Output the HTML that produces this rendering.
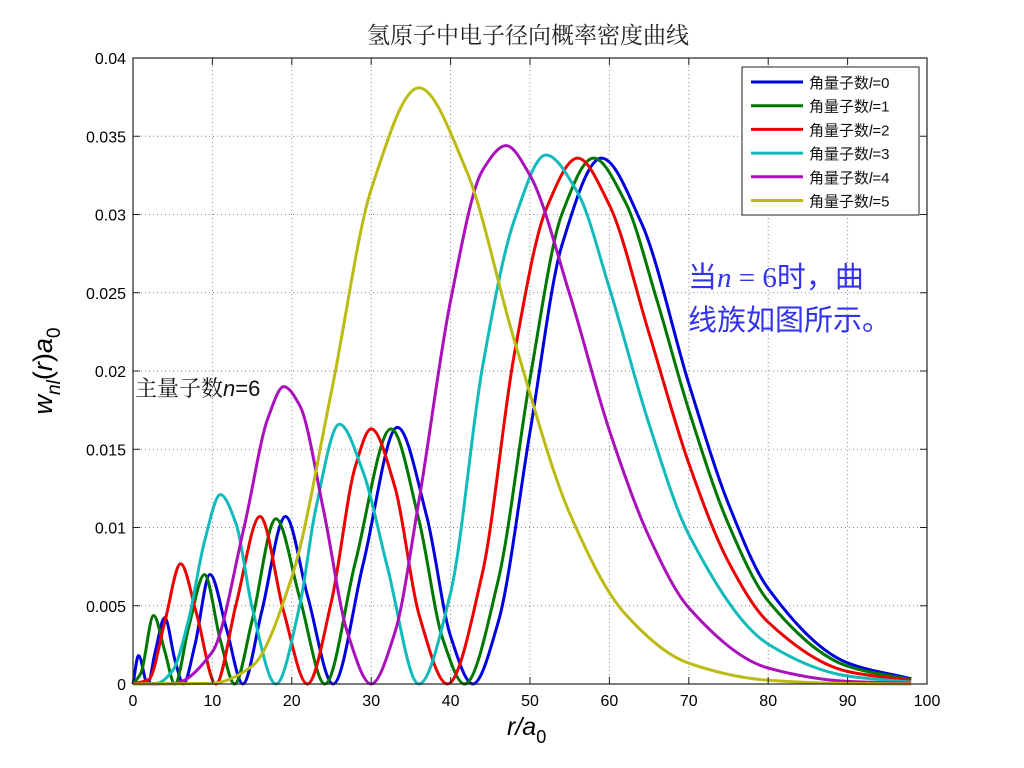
<!DOCTYPE html>
<html><head><meta charset="utf-8">
<style>
html,body{margin:0;padding:0;background:#fff;}
svg{display:block;}
</style></head>
<body>
<svg id="chart" width="1024" height="768" viewBox="0 0 1024 768" xmlns="http://www.w3.org/2000/svg">
  <rect x="0" y="0" width="1024" height="768" fill="#fff"/>
  <text x="528" y="43" text-anchor="middle" font-family="'Liberation Serif','Noto Serif CJK SC',serif" font-size="23" fill="#222">氢原子中电子径向概率密度曲线</text>
  <g id="grid"></g>
  <g id="curves"></g>
  <rect x="133" y="58" width="794" height="626" fill="none" stroke="#222" stroke-width="1.2"/>
  <g id="ticks"></g>
  <text x="0" y="0" transform="translate(52,371) rotate(-90)" text-anchor="middle" font-family="'Liberation Sans',sans-serif" font-size="27" font-style="italic" fill="#000">w<tspan font-size="19" dy="8">nl</tspan><tspan dy="-8" font-style="normal">(</tspan>r<tspan font-style="normal">)</tspan>a<tspan font-size="19" dy="8" font-style="normal">0</tspan></text>
  <text x="507" y="735" font-family="'Liberation Sans',sans-serif" font-size="25" font-style="italic" fill="#000">r/a<tspan font-size="18" dy="8" font-style="normal">0</tspan></text>
  <text x="135" y="396" font-family="'Liberation Serif','Noto Serif CJK SC',serif" font-size="22" fill="#111">主量子数<tspan font-family="'Liberation Sans',sans-serif" font-style="italic">n</tspan><tspan font-family="'Liberation Sans',sans-serif">=6</tspan></text>
  <text x="688" y="287" font-family="'Liberation Serif','Noto Sans CJK SC',serif" font-size="29" fill="#3333ee">当<tspan font-style="italic">n</tspan> = 6时，曲</text>
  <text x="688" y="330" font-family="'Liberation Serif','Noto Sans CJK SC',serif" font-size="29" fill="#3333ee">线族如图所示。</text>
  <g id="legend"></g>
</svg>
<script>
const xTicks = [0,10,20,30,40,50,60,70,80,90,100];
const yTicks = [0,0.005,0.01,0.015,0.02,0.025,0.03,0.035,0.04];
const yTickLabels = ["0","0.005","0.01","0.015","0.02","0.025","0.03","0.035","0.04"];
const seriesNames = ["角量子数l=0","角量子数l=1","角量子数l=2","角量子数l=3","角量子数l=4","角量子数l=5"];
const seriesColors = ["#0000dd","#007700","#ee0000","#11bbbb","#aa11bb","#bbbb11"];
const rL0 = [0,0.7,1.85,2.8,4,5.3,6.34,7.8,9.7,11.8,13.83,16.2,19.2,22,25.2,29,33.3,37,40,42.8,46,50,54,59,64,70,75,80,90,98];
const wL0 = [0,0.00181,0,0.00206,0.00423,0.0015,0,0.0025,0.0070,0.00347,0,0.0046,0.0107,0.0056,0,0.0077,0.0164,0.0107,0.00305,0,0.00396,0.0161,0.028,0.0336,0.0295,0.0192,0.0115,0.0061,0.00135,0.00033];
const rL1 = [0,1,2.6,4,5.27,7,9,11,12.8,15,18,21,24.17,28,32.5,36,39,41.76,46,50,54,58,62,66,70,75,80,90,98];
const wL1 = [0,0.0007,0.00438,0.0021,0,0.0036,0.00699,0.0028,0,0.00406,0.01056,0.0055,0,0.00778,0.0163,0.0105,0.0029,0,0.00664,0.0195,0.0300,0.0336,0.0308,0.0245,0.0175,0.0102,0.0053,0.00114,0.00028];
const rL2 = [0,2,4,6,8,10.43,13,16,19,21.96,25,28,30,33,36,39.6,44,48,52,56,60,65,70,75,80,90,98];
const wL2 = [0,0.00029,0.00396,0.00768,0.0045,0,0.00513,0.0107,0.00458,0,0.0053,0.0139,0.0163,0.01256,0.00448,0,0.00707,0.0210,0.0303,0.0336,0.0306,0.0224,0.0141,0.0078,0.00395,0.0008,0.00023];
const rL3 = [0,3,5,7,9,11,13,15,18,21,23,26,29,32,36,40,44,48,52,56,60,65,70,80,90,98];
const wL3 = [0,0.00004,0.00086,0.0041,0.0091,0.0121,0.0102,0.0049,0,0.00503,0.01115,0.0166,0.01352,0.00756,0,0.00583,0.0202,0.0296,0.0338,0.0314,0.0253,0.0166,0.00955,0.00255,0.00051,0.00012];
const rL4 = [0,5,10,14,17,19,21,24,27,30,33,36,40,44,47,50,55,60,65,70,80,90,98];
const wL4 = [0,0.00002,0.00206,0.01004,0.0170,0.0190,0.0178,0.0111,0.0033,0,0.00332,0.01167,0.0245,0.0328,0.0344,0.0325,0.0249,0.0162,0.0094,0.00487,0.00102,0.00017,0.00004];
const rL5 = [0,10,15,20,25,30,36,42,48,55,62,70,80,90,98];
const wL5 = [0,0.00005,0.00114,0.00683,0.0187,0.0316,0.0381,0.0328,0.0220,0.0109,0.00447,0.00133,0.00024,0.00003,0];
const seriesR = [rL0,rL1,rL2,rL3,rL4,rL5];
const seriesW = [wL0,wL1,wL2,wL3,wL4,wL5];

const NS = "http://www.w3.org/2000/svg";
const X0=133, X1=927, Y0=684, Y1=58;
function xScale(v){return X0+(v-0)/(100-0)*(X1-X0);}
function yScale(v){return Y0-(v-0)/(0.04-0)*(Y0-Y1);}
function mk(tag, attrs){const e=document.createElementNS(NS,tag);for(const k in attrs)e.setAttribute(k,attrs[k]);return e;}

const grid=document.getElementById('grid'), ticks=document.getElementById('ticks');
xTicks.forEach((t,i)=>{
  const x=xScale(t);
  if(i>0&&i<xTicks.length-1){
    const g=mk('line',{x1:x,y1:Y1,x2:x,y2:Y0,stroke:'#888','stroke-width':1,'stroke-dasharray':'1,3'});
    
    
    grid.appendChild(g);
  }
  const tk=mk('line',{x1:x,y1:Y0,x2:x,y2:Y0-7,stroke:'#222','stroke-width':1});
  
  
  ticks.appendChild(tk);
  const tk2=mk('line',{x1:x,y1:Y1,x2:x,y2:Y1+7,stroke:'#222','stroke-width':1});
  
  
  ticks.appendChild(tk2);
  const lb=mk('text',{x:x,y:706,'text-anchor':'middle','font-family':"'Liberation Sans',sans-serif",'font-size':16,fill:'#000'});
  lb.textContent=String(t);
  
  
  ticks.appendChild(lb);
});
yTicks.forEach((t,i)=>{
  const y=yScale(t);
  if(i>0&&i<yTicks.length-1){
    const g=mk('line',{x1:X0,y1:y,x2:X1,y2:y,stroke:'#888','stroke-width':1,'stroke-dasharray':'1,3'});
    
    
    grid.appendChild(g);
  }
  const tk=mk('line',{x1:X0,y1:y,x2:X0+7,y2:y,stroke:'#222','stroke-width':1});
  
  
  ticks.appendChild(tk);
  const tk2=mk('line',{x1:X1,y1:y,x2:X1-7,y2:y,stroke:'#222','stroke-width':1});
  
  
  ticks.appendChild(tk2);
  const lb=mk('text',{x:126,y:y+6,'text-anchor':'end','font-family':"'Liberation Sans',sans-serif",'font-size':16,fill:'#000'});
  lb.textContent=yTickLabels[i];
  
  
  ticks.appendChild(lb);
});

// monotone cubic (Fritsch-Carlson) path through data points
function monoPath(xs, ys){
  const n=xs.length, d=[], m=[];
  for(let i=0;i<n-1;i++) d.push((ys[i+1]-ys[i])/(xs[i+1]-xs[i]));
  m[0]=d[0]; m[n-1]=d[n-2];
  for(let i=1;i<n-1;i++){
    if(d[i-1]*d[i]<=0) m[i]=0;
    else { const h0=xs[i]-xs[i-1], h1=xs[i+1]-xs[i];
      const w1=2*h1+h0, w2=h1+2*h0;
      m[i]=(w1+w2)/(w1/d[i-1]+w2/d[i]); }
  }
  let p='M'+xs[0].toFixed(2)+','+ys[0].toFixed(2);
  for(let i=0;i<n-1;i++){
    const h=xs[i+1]-xs[i];
    p+=' C'+(xs[i]+h/3).toFixed(2)+','+(ys[i]+m[i]*h/3).toFixed(2)+' '+(xs[i+1]-h/3).toFixed(2)+','+(ys[i+1]-m[i+1]*h/3).toFixed(2)+' '+xs[i+1].toFixed(2)+','+ys[i+1].toFixed(2);
  }
  return p;
}
const curves=document.getElementById('curves');
seriesR.forEach((rs,s)=>{
  const xs=rs.map(xScale), ys=seriesW[s].map(yScale);
  const path=mk('path',{d:monoPath(xs,ys),fill:'none',stroke:seriesColors[s],'stroke-width':3,'stroke-linejoin':'round'});
  
  
  curves.appendChild(path);
});

const legend=document.getElementById('legend');
const box=mk('rect',{x:742,y:67,width:177,height:148,fill:'#fff',stroke:'#222','stroke-width':1});


legend.appendChild(box);
seriesNames.forEach((nm,i)=>{
  const y=82+i*23.7;
  const ln=mk('line',{x1:751,y1:y,x2:803,y2:y,stroke:seriesColors[i],'stroke-width':3});
  
  
  legend.appendChild(ln);
  const tx=mk('text',{x:809,y:y+6,'font-family':"'Liberation Sans','Noto Sans CJK SC',sans-serif",'font-size':15,fill:'#111'});
  tx.innerHTML='角量子数<tspan font-style="italic">l</tspan>='+i;
  
  
  legend.appendChild(tx);
});
</script>
</body></html>
